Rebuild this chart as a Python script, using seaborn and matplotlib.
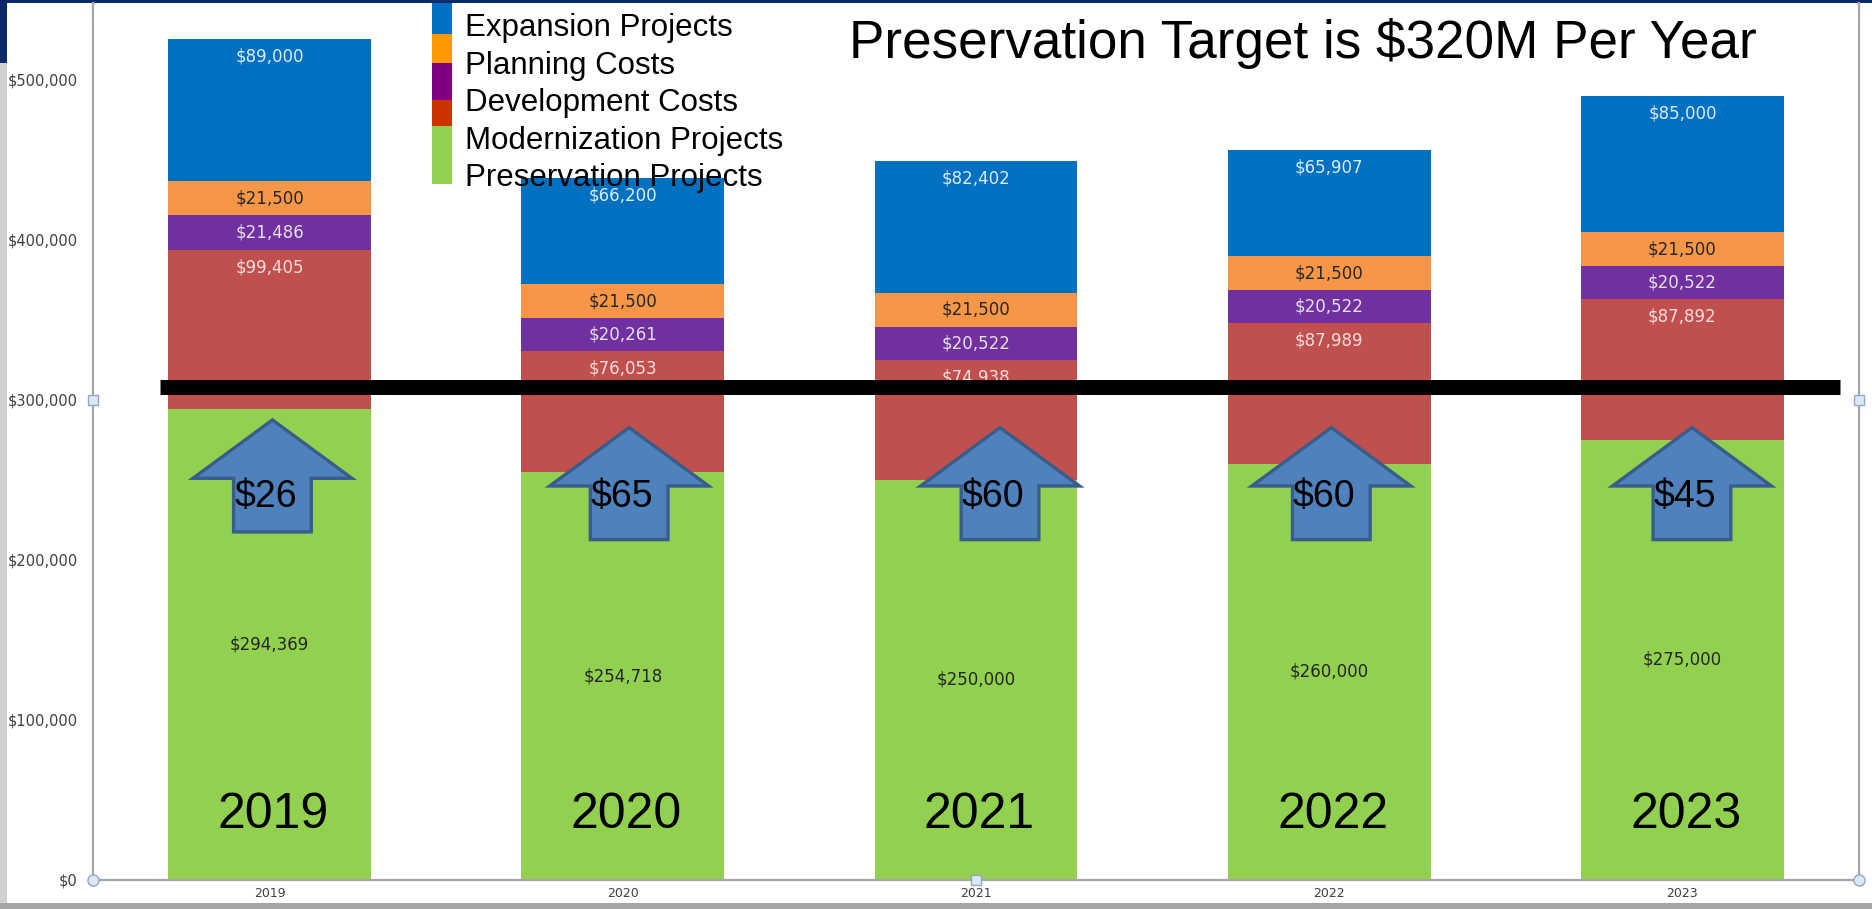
import numpy as np
import pandas as pd
import seaborn as sns
import matplotlib.pyplot as plt
from matplotlib.patches import Polygon, Rectangle

# values (bottom of stack first)
years = ['2019', '2020', '2021', '2022', '2023']
preservation = [294369, 254718, 250000, 260000, 275000]
modernization = [99405, 76053, 74938, 87989, 87892]
development = [21486, 20261, 20522, 20522, 20522]
planning = [21500, 21500, 21500, 21500, 21500]
expansion = [89000, 66200, 82402, 65907, 85000]

series_names = ['Preservation Projects', 'Modernization Projects', 'Development Costs',
                'Planning Costs', 'Expansion Projects']
bar_colors = ['#92D050', '#C0504D', '#7030A0', '#F79646', '#0070C0']
label_colors = ['#262626', '#F2DCDB', '#E6E0EC', '#262626', '#DDEBF7']
swatch_colors = ['#92D050', '#CC3300', '#800080', '#FF9900', '#0070C0']

gap_labels = ['$26', '$65', '$60', '$60', '$45']
arrow_tip = [287500, 282700, 282700, 282700, 282700]
arrow_dx = [0.008, 0.018, 0.068, 0.006, 0.027]
target_line = 308000
title = 'Preservation Target is $320M Per Year'

W, H = 1872, 909
sns.set_style('white')
plt.rcParams['font.family'] = ['DejaVu Sans']

fig = plt.figure(figsize=(W / 100, H / 100), dpi=100)
fig.patch.set_facecolor('white')


def fx(x, y):
    return x / W, 1 - y / H


# slide frame around the chart
for (x0, y0, x1, y1, c) in [(0, 0, W, 3, '#0B2A67'), (0, 0, 7, 63, '#0B2A67'),
                            (0, 63, 7, H, '#CFCFCF'), (0, 903, W, H, '#A5A5A5')]:
    fig.add_artist(Rectangle(fx(x0, y1), (x1 - x0) / W, (y1 - y0) / H,
                             transform=fig.transFigure, color=c, lw=0, zorder=0))

ax = fig.add_axes([93 / W, 1 - 880 / H, (1859 - 93) / W, 877 / H])
ax.set_facecolor('none')

data = pd.DataFrame({'year': years, series_names[0]: preservation, series_names[1]: modernization,
                     series_names[2]: development, series_names[3]: planning,
                     series_names[4]: expansion})
cum = data[series_names].cumsum(axis=1)

# stacked look: draw cumulative totals from the top segment down
for k in reversed(range(len(series_names))):
    sns.barplot(x=data['year'], y=cum[series_names[k]], color=bar_colors[k], saturation=1,
                width=0.574, errorbar=None, linewidth=0, ax=ax, zorder=2)

for k, name in enumerate(series_names):
    for i in range(len(years)):
        top = cum[name].iloc[i]
        val = data[name].iloc[i]
        y = top - 11000 if k in (1, 4) else top - val / 2
        ax.text(i, y, f'${val:,.0f}', ha='center', va='center', fontsize=12,
                color=label_colors[k], zorder=3)

ax.set_xlim(-0.5, len(years) - 0.5)
ax.set_ylim(0, 548000)
ax.set_yticks(np.arange(0, 500001, 100000))
ax.set_yticklabels([f'${v:,.0f}' for v in np.arange(0, 500001, 100000)])
ax.tick_params(axis='y', length=0, pad=11, labelsize=10.5, labelcolor='#404040')
ax.tick_params(axis='x', length=0, pad=5, labelsize=9, labelcolor='#404040')
ax.set_xlabel('')
ax.set_ylabel('')
ax.spines['top'].set_visible(False)
for s in ['left', 'right', 'bottom']:
    ax.spines[s].set_color('#A6A6A6')
    ax.spines[s].set_linewidth(1.6)

# target line
ax.plot([-0.31, 4.446], [target_line, target_line], color='black', lw=10.8,
        solid_capstyle='butt', zorder=5, clip_on=False)

# up arrows with the gap amounts
for i, lab in enumerate(gap_labels):
    cx = i + arrow_dx[i]
    tip = arrow_tip[i]
    base = tip - 36500
    bottom = tip - 70000
    pts = [(cx, tip), (cx + 0.225, base), (cx + 0.11, base), (cx + 0.11, bottom),
           (cx - 0.11, bottom), (cx - 0.11, base), (cx - 0.225, base)]
    ax.add_patch(Polygon(pts, closed=True, facecolor='#4F81BD', edgecolor='#385D8A',
                         lw=2.4, zorder=6, joinstyle='miter'))
    ax.text(cx - 0.02, 233000, lab, ha='center', va='baseline', fontsize=27,
            family=['Liberation Sans', 'DejaVu Sans'], color='black', zorder=7)

# big year labels on the bars
for i, yr in enumerate(years):
    ax.text(i + 0.01, 32500, yr, ha='center', va='baseline', fontsize=36,
            family=['Liberation Sans', 'DejaVu Sans'], color='black', zorder=7)

# chart selection handles
hx = [-0.5, 4.5]
ax.plot(hx, [0, 0], 'o', ms=8, mfc='#DCE9F5', mec='#8FA8C8', clip_on=False, zorder=8)
ax.plot(hx, [300000, 300000], 's', ms=6.5, mfc='#DCE9F5', mec='#8FA8C8', clip_on=False, zorder=8)
ax.plot([2], [0], 's', ms=6.5, mfc='#DCE9F5', mec='#8FA8C8', clip_on=False, zorder=8)

# hand-made legend strip
strip = [(3, 34), (34, 63), (63, 100), (100, 126), (126, 184)]
for k, (y0, y1) in zip([4, 3, 2, 1, 0], strip):
    fig.add_artist(Rectangle(fx(432, y1), 20 / W, (y1 - y0) / H, transform=fig.transFigure,
                             color=swatch_colors[k], lw=0, zorder=9))
for k, yb in zip([4, 3, 2, 1, 0], [36, 74, 111, 148.5, 186]):
    fig.text(*fx(465, yb), series_names[k], ha='left', va='baseline', fontsize=22.5,
             family=['Liberation Sans', 'DejaVu Sans'], color='black', zorder=9)

fig.text(*fx(849, 58), title, ha='left', va='baseline', fontsize=38.2,
         family=['Liberation Sans', 'DejaVu Sans'], color='black', zorder=9)

fig.savefig('out.png', dpi=100)
